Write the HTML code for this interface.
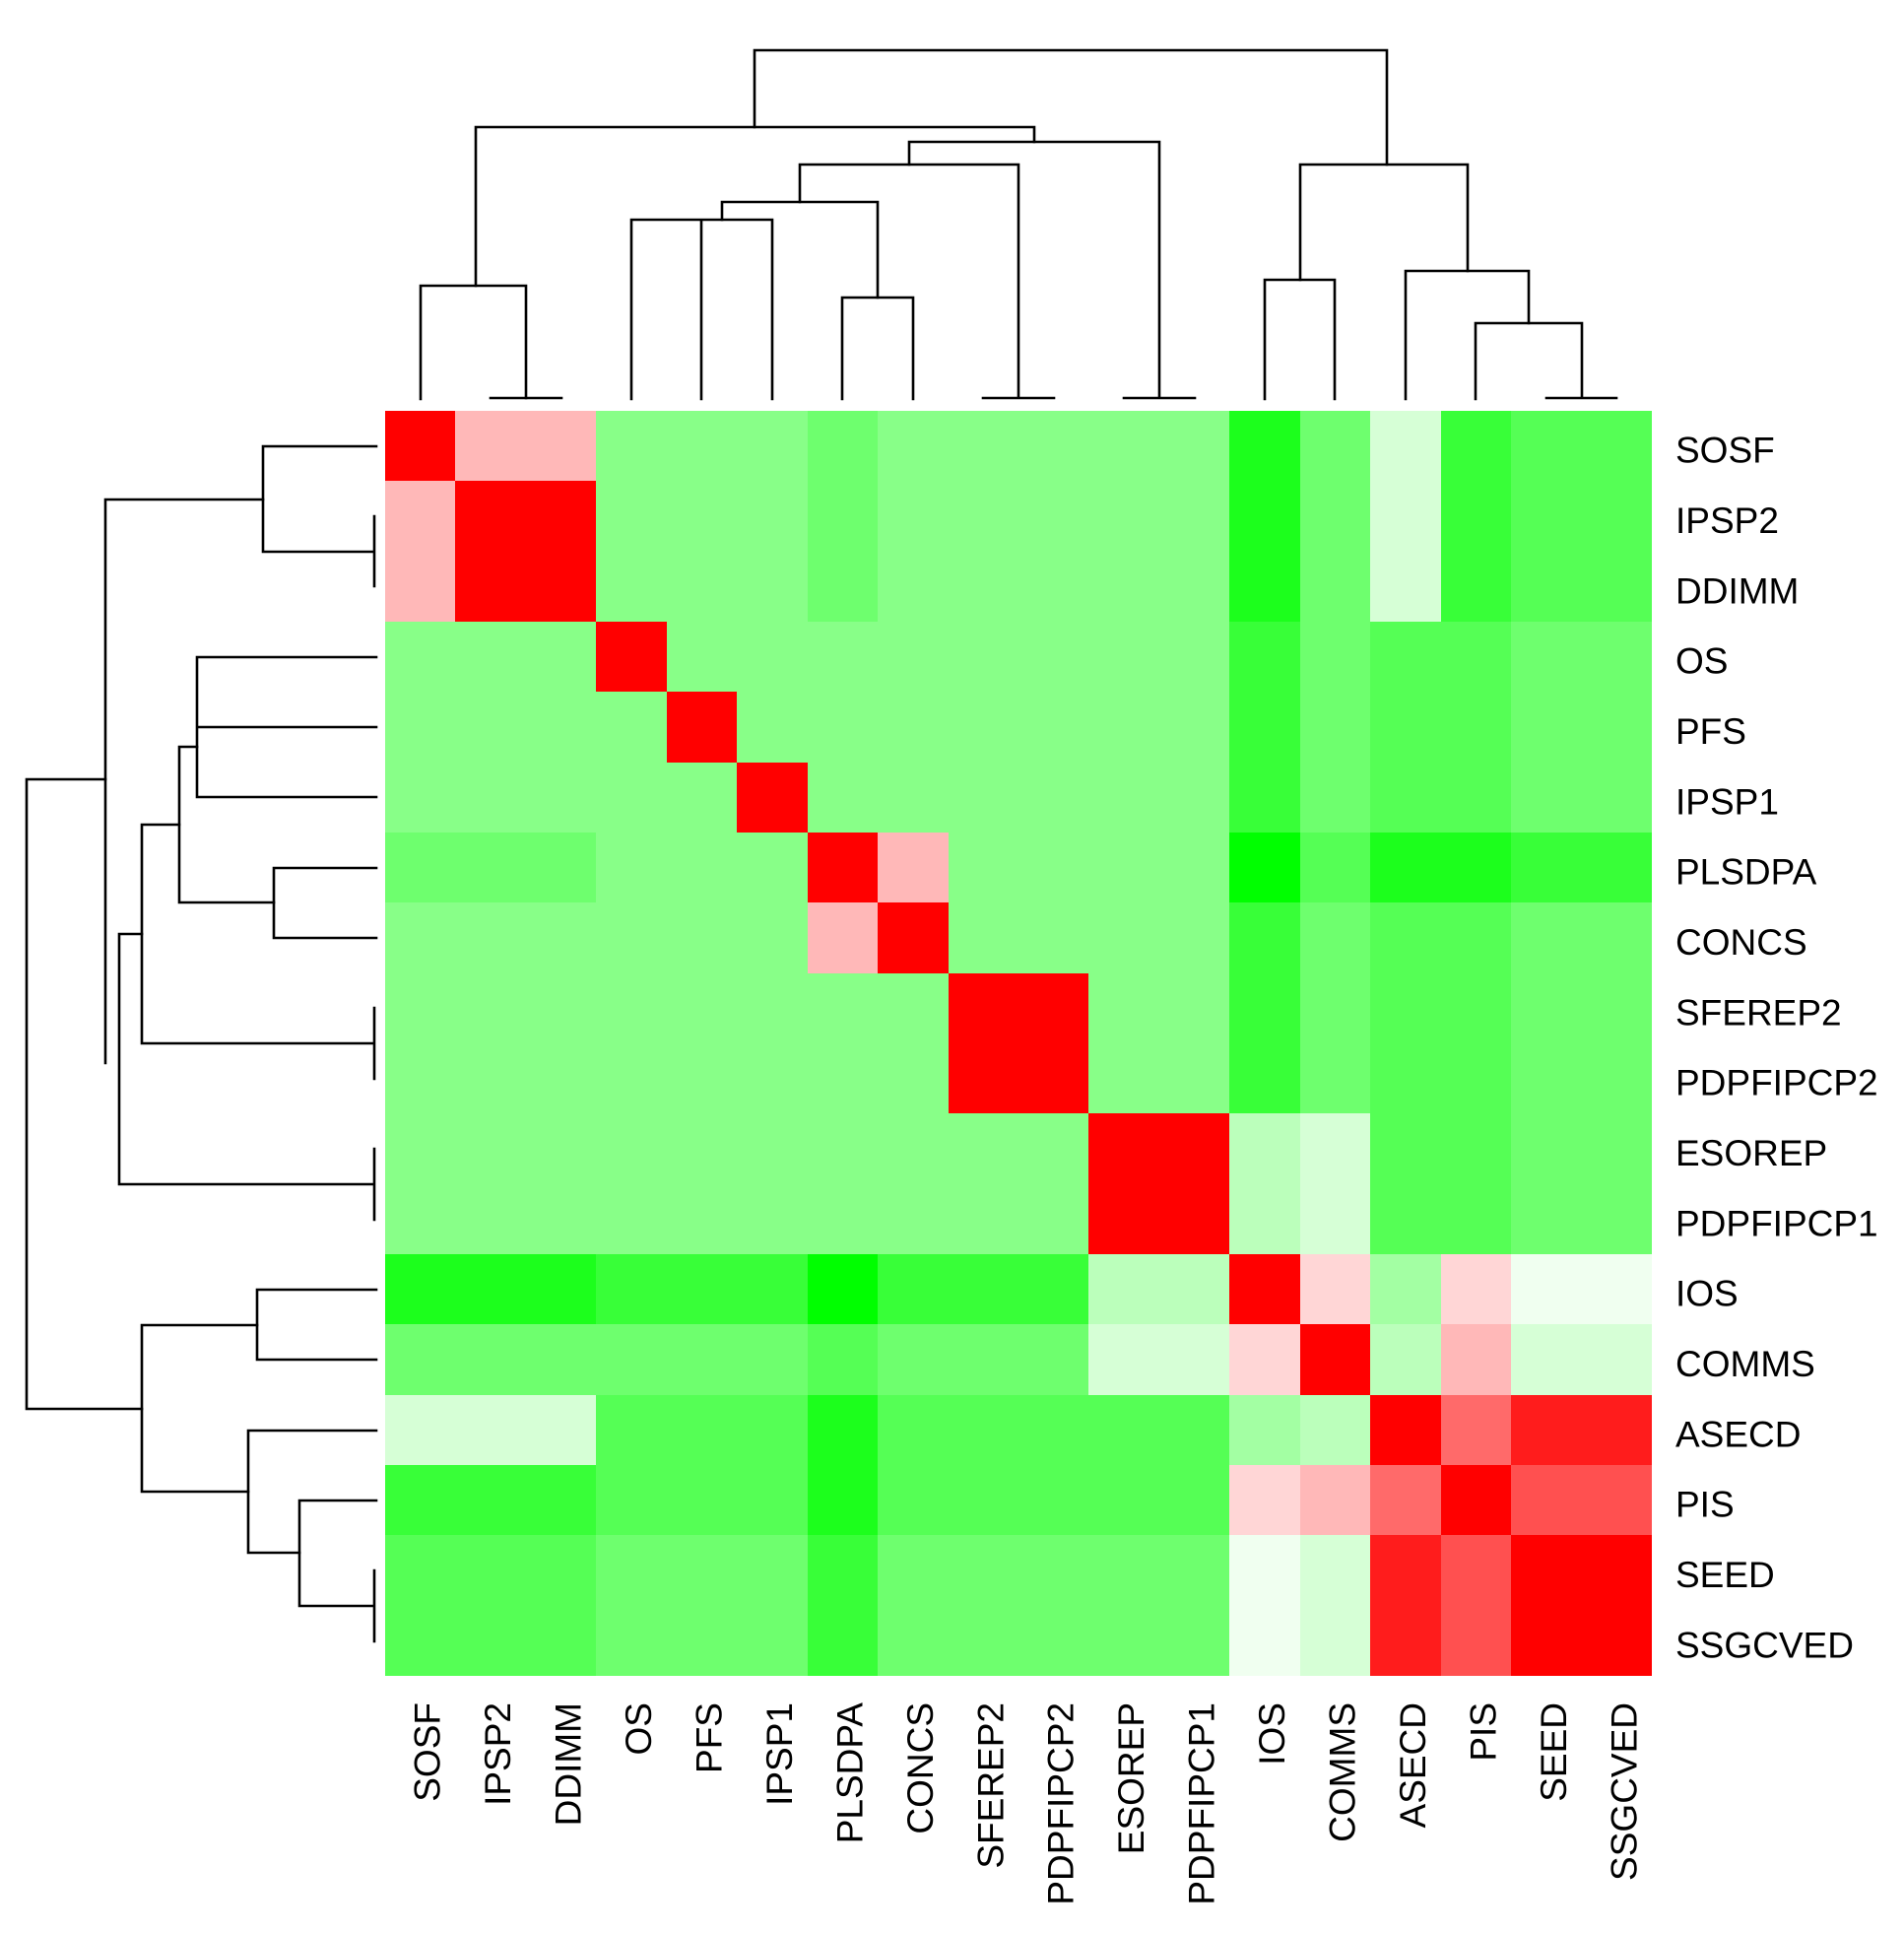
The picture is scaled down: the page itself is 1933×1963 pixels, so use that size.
<!DOCTYPE html>
<html><head><meta charset="utf-8"><style>
html,body{margin:0;padding:0;background:#fff;}
svg{display:block;}
text{font-family:"Liberation Sans",Arial,sans-serif;font-size:37px;fill:#000;}
</style></head><body>
<svg width="1933" height="1963" viewBox="0 0 1933 1963" xmlns="http://www.w3.org/2000/svg">
<g id="heat" shape-rendering="crispEdges"></g>
<g stroke="#000" stroke-width="2.6" fill="none" stroke-linecap="square">
<path d="M427,405 V290 H534 V404"/>
<path d="M498,404 H570"/>
<path d="M483,290 V129 H1050 V144"/>
<path d="M641,405 V223 H784 V405 M712,223 V405"/>
<path d="M855,405 V302 H927 V405"/>
<path d="M733,223 V205 H891 V302"/>
<path d="M812,205 V167 H1034 V404 M998,404 H1070"/>
<path d="M923,167 V144 H1177 V404 M1141,404 H1213"/>
<path d="M766,129 V51 H1408 V167"/>
<path d="M1284,405 V284 H1355 V405"/>
<path d="M1498,405 V328 H1606 V404 M1570,404 H1641"/>
<path d="M1427,405 V275 H1552 V328"/>
<path d="M1320,284 V167 H1490 V275"/>
<path d="M382,453 H267 V560 H380 M380,524 V595"/>
<path d="M267,507 H107 V1079"/>
<path d="M382,667 H200 V809 H382 M200,738 H382"/>
<path d="M382,881 H278 V952 H382"/>
<path d="M200,758 H182 V916 H278"/>
<path d="M182,837 H144 V1059 H380 M380,1023 V1095"/>
<path d="M144,948 H121 V1202 H380 M380,1166 V1238"/>
<path d="M107,791 H27 V1430 H144"/>
<path d="M382,1309 H261 V1380 H382"/>
<path d="M382,1523 H304 V1630 H380 M380,1594 V1666"/>
<path d="M382,1452 H252 V1576 H304"/>
<path d="M261,1345 H144 V1514 H252"/>
</g>
<g id="rl"></g>
<g id="bl"></g>
</svg>
<script>
var C={A:"#88FF88",B:"#6EFF6E",C:"#55FF55",D:"#38FF38",E:"#1CFF1C",F:"#00FF00",
L1:"#A3FFA3",L2:"#BBFFBB",L3:"#D6FFD6",L4:"#F0FFF0",
P1:"#FFD6D6",P2:"#FFB8B8",R3:"#FF6A6A",R4:"#FF5050",R5:"#FF1C1C",R:"#FF0000"};
var M=[
"R P2 P2 A A A B A A A A A E B L3 D C C",
"P2 R R A A A B A A A A A E B L3 D C C",
"P2 R R A A A B A A A A A E B L3 D C C",
"A A A R A A A A A A A A D B C C B B",
"A A A A R A A A A A A A D B C C B B",
"A A A A A R A A A A A A D B C C B B",
"B B B A A A R P2 A A A A F C E E D D",
"A A A A A A P2 R A A A A D B C C B B",
"A A A A A A A A R R A A D B C C B B",
"A A A A A A A A R R A A D B C C B B",
"A A A A A A A A A A R R L2 L3 C C B B",
"A A A A A A A A A A R R L2 L3 C C B B",
"E E E D D D F D D D L2 L2 R P1 L1 P1 L4 L4",
"B B B B B B C B B B L3 L3 P1 R L2 P2 L3 L3",
"L3 L3 L3 C C C E C C C C C L1 L2 R R3 R5 R5",
"D D D C C C E C C C C C P1 P2 R3 R R4 R4",
"C C C B B B D B B B B B L4 L3 R5 R4 R R",
"C C C B B B D B B B B B L4 L3 R5 R4 R R"];
var names=["SOSF","IPSP2","DDIMM","OS","PFS","IPSP1","PLSDPA","CONCS","SFEREP2","PDPFIPCP2","ESOREP","PDPFIPCP1","IOS","COMMS","ASECD","PIS","SEED","SSGCVED"];
var ns="http://www.w3.org/2000/svg",x0=391,y0=417,cw=1286/18,ch=1284/18;
var h=document.getElementById("heat");
M.forEach(function(r,i){r.split(" ").forEach(function(k,j){
var e=document.createElementNS(ns,"rect");
var xa=Math.round(x0+j*cw),xb=Math.round(x0+(j+1)*cw),ya=Math.round(y0+i*ch),yb=Math.round(y0+(i+1)*ch);
e.setAttribute("x",xa);e.setAttribute("y",ya);e.setAttribute("width",xb-xa);e.setAttribute("height",yb-ya);
e.setAttribute("fill",C[k]);h.appendChild(e);});});
var rl=document.getElementById("rl"),bl=document.getElementById("bl");
names.forEach(function(n,i){
var t=document.createElementNS(ns,"text");
t.setAttribute("x",1701);t.setAttribute("y",(y0+(i+0.5)*ch+17).toFixed(1));t.textContent=n;rl.appendChild(t);
var b=document.createElementNS(ns,"text");
var cx=x0+(i+0.5)*cw+20;
b.setAttribute("text-anchor","end");
b.setAttribute("transform","translate("+cx.toFixed(1)+",1728) rotate(-90)");
b.textContent=n;bl.appendChild(b);});
</script>
</body></html>
